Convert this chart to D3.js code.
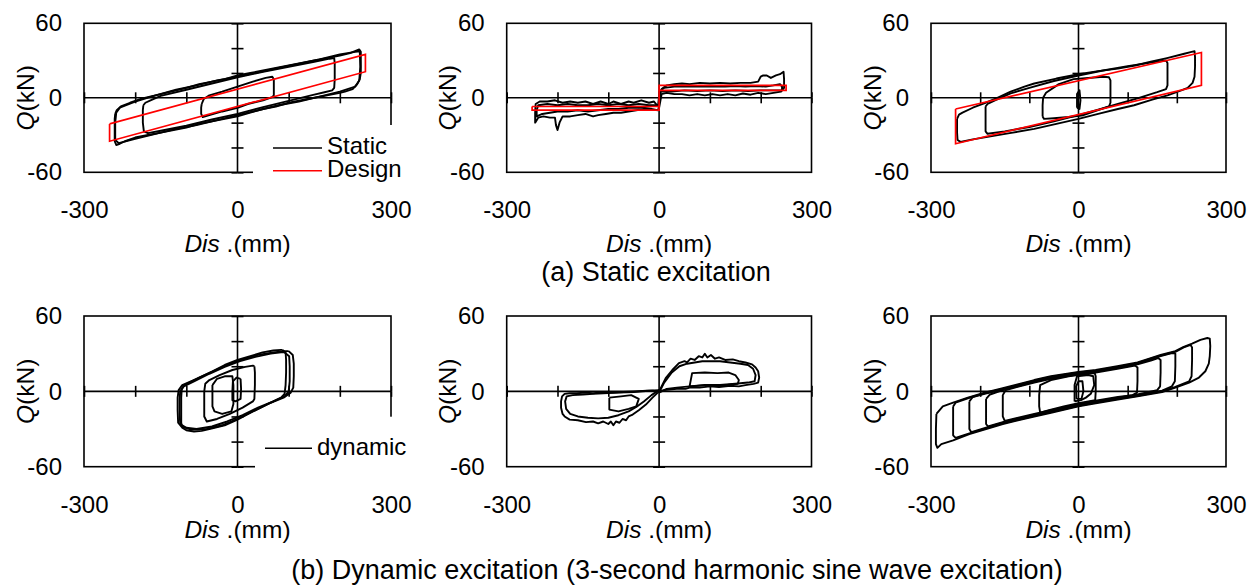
<!DOCTYPE html>
<html>
<head>
<meta charset="utf-8">
<script src="https://cdn.jsdelivr.net/npm/d3@7"></script>
<style>
  body { margin: 0; background: #fff; }
  text { font-family: "Liberation Sans", Arial, Helvetica, sans-serif; fill: #000; }
</style>
</head>
<body>
<svg id="chart" width="1255" height="586"></svg>
<script>
// ---- data: [displacement (mm), shear force (kN)] ----
const xTicks = [-300, -200, -100, 100, 200, 300];
const yTicks = [-60, -40, -20, 20, 40, 60];
const xTickLabels = [-300, 0, 300];
const yTickLabels = [-60, 0, 60];

// (a) static, left
const sA_outer = [[-239,-13],[-236,-10],[-228,-7],[-210,-4],[-190,-1],[-171,1],[-150,3],[-120,6],[-100,8],[-75,11],[-50,13],[-25,15],[0,18],[25,20],[50,22],[75,24],[100,26],[125,28],[150,30],[175,32],[200,34],[220,36],[232,38],[238,39],[241,37],[241,30],[241,20],[239,15],[234,11],[225,7],[210,5],[200,4],[175,2],[150,0],[125,-2],[100,-4],[75,-7],[50,-9],[25,-12],[0,-15],[-25,-17],[-50,-19],[-75,-21],[-100,-24],[-125,-26],[-150,-28],[-175,-30],[-200,-32],[-220,-35],[-230,-37],[-237,-38],[-240,-35],[-240,-25],[-240,-17],[-239,-13]];
const sA_outer2 = [[-237,-12],[-230,-8],[-200,-3],[-160,2],[-120,6.5],[-80,10],[-40,14],[0,17],[40,20.5],[80,24],[120,27.5],[160,31],[200,35],[230,37],[239,37.5],[240,25],[238,14],[230,9],[200,5],[160,1],[120,-3],[80,-6],[40,-10],[0,-14],[-40,-18],[-80,-22],[-120,-25],[-160,-29],[-200,-33],[-232,-36.5],[-239,-34],[-239,-20],[-237,-12]];
const sA_middle = [[-184,-6],[-180,-4],[-170,-2],[-150,1.5],[-100,6.5],[-50,11.5],[0,16.5],[50,21],[100,25],[150,29],[180,31.5],[189,32],[190,28],[190,15],[189,8],[185,6],[170,4.5],[150,2.5],[100,-2.5],[50,-7.5],[0,-13],[-50,-17.5],[-100,-22.5],[-150,-26.5],[-175,-28.5],[-183,-27],[-185,-20],[-185,-10],[-184,-6]];
const sA_inner = [[-70,-5],[-66,-1],[-55,2],[-30,5],[0,9],[30,13],[55,16],[68,17],[71,15],[71,8],[71,2],[68,0.5],[50,-2],[20,-5],[0,-8],[-30,-11],[-55,-14],[-68,-15.5],[-71,-13],[-71,-8],[-70,-5]];
const sA_design = [[-250,-21],[250,35],[250,21],[-250,-35],[-250,-21]];

// (a) static, middle
const sB_loop1 = [[0,-8],[-10,-3],[-20,-4],[-35,-2],[-50,-4],[-60,-3],[-75,-5],[-90,-3],[-100,-5],[-115,-3],[-130,-5],[-145,-3],[-160,-4],[-175,-3],[-190,-4],[-205,-2],[-220,-3],[-235,-3],[-243,-5],[-244,-12],[-244,-20],[-238,-16],[-228,-15],[-215,-16],[-205,-16],[-203,-22],[-200,-26],[-196,-20],[-190,-15],[-175,-15],[-160,-14],[-145,-13],[-130,-15],[-120,-14],[-105,-13],[-90,-12],[-75,-12],[-60,-11],[-45,-10],[-30,-9],[-15,-9],[-3,-10],[0,-8],[2,3],[5,7],[15,10],[30,11],[45,11.5],[60,11],[80,12],[100,11.5],[120,12],[140,11.5],[160,12],[180,12],[195,13],[200,17],[205,18],[212,18],[220,16],[230,18],[238,19],[245,21],[246,15],[246,8],[240,5],[225,4],[210,3],[195,4],[180,2.5],[165,3.5],[150,2],[135,3],[120,2],[105,3],[90,2],[75,3],[60,2],[45,3],[30,3],[15,4],[5,3],[0,-8]];
const sB_loop2 = [[-2,-6],[-20,-6],[-40,-5],[-60,-6],[-80,-5],[-100,-6],[-120,-5],[-140,-6],[-160,-6],[-180,-5],[-200,-6],[-220,-5],[-238,-6],[-241,-10],[-241,-15],[-230,-13],[-215,-12],[-200,-11],[-180,-11],[-160,-10],[-140,-11],[-120,-10],[-100,-9],[-80,-9],[-60,-8],[-40,-8],[-20,-7],[-2,-6],[1,5],[10,8],[30,9],[50,9],[70,9],[90,9],[110,9],[130,9],[150,9.5],[170,9],[190,9.5],[210,9],[225,10],[238,11],[242,9],[242,6],[225,6],[200,6],[175,5.5],[150,6],[125,5.5],[100,6],[75,5.5],[50,6],[25,5],[1,5]];
const sB_design = [[-250,-7],[-250,-10],[0,-10],[0,10],[250,10],[250,6],[0,6],[0,-7],[-250,-7]];

// (a) static, right
const sC_outer = [[-247,-17],[-243,-13.5],[-236,-12],[-215,-8],[-192,-4.5],[-165,0],[-138,5],[-110,9],[-90,11.5],[-45,15.5],[0,19],[40,21.5],[80,23.5],[115,26],[147,29],[180,32],[215,35.5],[230,37],[236,37.5],[237,33],[237,25],[236,17],[232,12],[222,8],[209,6],[181,2],[150,-1.5],[113,-6],[80,-9],[40,-13],[0,-17],[-45,-21],[-90,-25],[-140,-28.5],[-185,-31.5],[-215,-33.5],[-240,-35.5],[-246,-34],[-247,-28],[-247,-22],[-247,-17]];
const sC_middle = [[-189,-7],[-185,-5],[-170,-2],[-138,3.5],[-100,8],[-50,13.5],[0,18],[50,22],[100,25.5],[150,28.5],[178,30],[181,28],[181,18],[181,10],[178,7],[160,4.5],[120,-0.5],[80,-5],[40,-9.5],[0,-14],[-50,-19],[-100,-23.5],[-150,-27],[-185,-29],[-189,-27],[-189,-17],[-189,-7]];
const sC_inner = [[-73,-15],[-73,-6],[-72,0],[-66,4],[-40,11],[-10,15],[20,16],[50,17],[62,16.5],[65,14],[65,5],[65,-4],[62,-7],[40,-10],[10,-14],[-20,-15.5],[-50,-16.5],[-70,-17],[-73,-15]];
const sC_small = [[-3,-8],[-3,3],[2,6],[4,-2],[2,-9],[-3,-8]];
const sC_design = [[-250,-9],[250,36.5],[250,10],[-250,-37],[-250,-9]];

// (b) dynamic, left
const dA_outer1 = [[88,33],[94,31],[95,25],[95,15],[94,5],[92,-2],[85,-5],[70,-8],[55,-11],[30,-16],[0,-22.5],[-25,-27],[-49,-29.5],[-70,-31.5],[-85,-32],[-100,-31],[-108,-29],[-110,-25],[-110,-15],[-110,-5],[-109,2],[-104,5],[-94,7],[-75,11],[-49,16],[-25,21],[0,25],[25,28],[49,31],[70,32.5],[85,33],[88,33]];
const dA_outer2 = [[100,32],[108,29],[110,22],[110,12],[109,3],[104,-1],[90,-5],[60,-10],[30,-16],[0,-22],[-30,-27],[-60,-30],[-90,-30.5],[-110,-28],[-116,-25],[-117,-15],[-117,-5],[-115,1],[-108,5],[-80,10],[-50,15.5],[-20,21],[10,25.5],[40,29],[70,31],[90,32],[100,32]];
const dA_outer3 = [[92,31],[101,28],[102,20],[102,8],[100,0],[92,-4],[70,-8],[40,-13],[10,-19],[-20,-24],[-50,-28],[-80,-30],[-100,-29],[-112,-26],[-113,-18],[-113,-6],[-112,0],[-105,4],[-85,8],[-55,14],[-25,19.5],[5,24],[35,27.5],[65,30],[85,31],[92,31]];
const dA_middle = [[33,20],[34,15],[34,5],[33,-6],[30,-8],[10,-13],[-15,-18],[-40,-22],[-60,-24],[-65,-20],[-65,-10],[-65,0],[-63,6],[-55,9],[-35,13],[-10,17],[15,19.5],[30,20.5],[33,20]];
const dA_small = [[-49,5],[-49,-12],[-45,-16],[-30,-18],[-12,-16],[-8,-10],[-8,5],[-10,12],[-25,12],[-40,10],[-49,5]];
const dA_tiny = [[6,10],[7,2],[6,-6],[-4,-8],[-10,-7],[-10,0],[-9,8],[-2,11],[6,10]];

// (b) dynamic, middle
const dB_right1 = [[0,0],[13,10.5],[26,17],[39,22.5],[50,24],[55,23],[62,26],[70,25],[78,28],[85,27],[90,30],[95,27],[102,29],[110,26],[118,27],[130,25],[145,25.5],[157,24],[170,23],[183,21.5],[190,19],[195,16],[197,11],[195,7],[186,6],[170,5],[157,4],[140,4.5],[118,3.5],[100,4],[80,3],[60,3],[52,2],[35,2],[20,1.5],[10,1],[0,0]];
const dB_right2 = [[0,-1],[10,7],[25,15],[40,20],[55,22],[70,23],[85,24],[100,24],[120,24],[140,23],[160,22],[175,21],[185,18],[190,13],[188,8],[175,7],[150,6],[120,5],[90,5],[60,4],[35,3],[15,2],[0,-1]];
const dB_rightIn = [[60,4],[65,14.5],[90,15],[115,14.5],[137,15],[150,13],[157,9],[155,6],[130,5],[100,5],[60,4]];
const dB_left1 = [[0,0],[-13,-5],[-26,-10.5],[-40,-15],[-52,-18.5],[-60,-20],[-65,-23],[-72,-22],[-78,-25],[-85,-24],[-90,-27],[-95,-24],[-100,-26],[-110,-24],[-120,-25.5],[-130,-24],[-144,-24.5],[-160,-23],[-176,-22.5],[-186,-20],[-190,-18],[-193,-13],[-193,-8],[-191,-4],[-186,-2],[-176,-1.5],[-163,-1.5],[-145,-1],[-130,-1.5],[-111,-0.8],[-90,-1],[-70,-0.5],[-46,0],[-25,0.5],[-13,0.5],[0,0]];
const dB_left2 = [[0,1],[-15,-3],[-30,-8],[-45,-12.5],[-60,-16],[-80,-19],[-100,-21],[-120,-21.5],[-140,-21],[-160,-20],[-175,-18],[-183,-14],[-185,-8],[-182,-4],[-170,-3],[-150,-2.5],[-130,-2],[-110,-1.5],[-80,-1],[-50,-0.5],[-20,0.5],[0,1]];
const dB_leftIn = [[-98,-5],[-98,-14.5],[-80,-16],[-60,-14],[-45,-12],[-40,-6],[-55,-3],[-75,-4],[-98,-5]];

// (b) dynamic, right
const dC_loopA = [[-289,-18],[-276,-12],[-255,-9],[-225,-5],[-191,-1],[-154,2.5],[-124,5.5],[-90,9],[-56,12],[0,15.5],[35,17],[79,20],[120,23],[147,26.5],[167,29],[197,32],[214,35.5],[231,38],[248,41],[262,42.5],[267,42],[268,36],[267,28],[265,22],[258,16],[245,11],[225,7],[197,3],[170,-0.5],[120,-4],[80,-6.5],[35,-9.5],[0,-12],[-56,-17],[-90,-20],[-154,-26],[-188,-30],[-222,-34],[-255,-39],[-279,-42],[-287,-45],[-290,-42],[-290,-30],[-289,-18]];
const dC_loopB = [[-255,-12],[-250,-9],[-225,-5.5],[-191,-1.5],[-154,2],[-124,5],[-90,8.5],[-56,11.5],[0,15],[35,16.5],[79,19.5],[120,22.5],[147,26],[167,28.5],[197,31.5],[214,35],[228,37],[231,35],[231,25],[230,12],[225,8],[197,3.5],[170,0],[120,-3.5],[80,-6],[35,-9],[0,-11.5],[-56,-16.5],[-90,-19.5],[-154,-25.5],[-188,-29.5],[-222,-33.5],[-250,-37],[-255,-35],[-255,-25],[-255,-12]];
const dC_loopC = [[-222,-8],[-215,-4.5],[-191,-2],[-154,1.5],[-124,4.5],[-90,8],[-56,11],[0,14.5],[35,16],[79,19],[120,22],[147,25.5],[167,28],[190,30.5],[197,30],[197,20],[196,8],[190,4],[170,0.5],[120,-3],[80,-5.5],[35,-8.5],[0,-11],[-56,-16],[-90,-19],[-154,-25],[-188,-29],[-218,-32.5],[-222,-30],[-222,-20],[-222,-8]];
const dC_loopD = [[-188,-6],[-180,-2.5],[-154,1],[-124,4],[-90,7.5],[-56,10.5],[0,14],[35,15.5],[79,18.5],[120,21.5],[147,24.5],[162,26.5],[167,25],[167,15],[166,4],[160,1],[120,-2.5],[80,-5],[35,-8],[0,-10.5],[-56,-15.5],[-90,-18.5],[-154,-24.5],[-184,-28],[-188,-26],[-188,-15],[-188,-6]];
const dC_loopE = [[-154,-3],[-148,1],[-124,3.5],[-90,7],[-56,10],[0,13.5],[35,15],[79,18],[115,20.5],[120,19],[120,8],[119,-1],[110,-3],[80,-4.5],[35,-7.5],[0,-10],[-56,-15],[-90,-18],[-150,-23.5],[-154,-20],[-154,-10],[-154,-3]];
const dC_loopF = [[-80,-3],[-78,5],[-56,9],[-20,12],[10,13.5],[33,14.5],[35,12],[35,0],[34,-7],[20,-8],[0,-9.5],[-30,-12],[-60,-15],[-78,-17],[-80,-12],[-80,-3]];
const dC_loopG = [[-8,-8],[-8,5],[-3,12],[20,13],[30,12],[32,5],[25,-2],[15,-5],[5,-7],[-8,-8]];
const dC_loopH = [[-4,-6],[-5,4],[0,8],[8,8],[10,0],[6,-6],[-4,-6]];

// ---- layout ----
const rows = [{ top: 23.3, bottom: 172.3, labelY: 252 }, { top: 316, bottom: 466.7, labelY: 538 }];
const cols = [{ left: 84, right: 391 }, { left: 506.7, right: 811.5 }, { left: 931, right: 1226 }];

const panels = [
  { r: 0, c: 0, black: [sA_outer, sA_outer2, sA_middle, sA_inner], red: [sA_design] },
  { r: 0, c: 1, black: [sB_loop1, sB_loop2], red: [sB_design] },
  { r: 0, c: 2, black: [sC_outer, sC_middle, sC_inner, sC_small], red: [sC_design] },
  { r: 1, c: 0, black: [dA_outer1, dA_outer2, dA_outer3, dA_middle, dA_small, dA_tiny], red: [] },
  { r: 1, c: 1, black: [dB_right1, dB_right2, dB_rightIn, dB_left1, dB_left2, dB_leftIn], red: [] },
  { r: 1, c: 2, black: [dC_loopA, dC_loopB, dC_loopC, dC_loopD, dC_loopE, dC_loopF, dC_loopG, dC_loopH], red: [] }
];

const plainNum = function(d) { return String(d); }; // keep ASCII hyphen

const svg = d3.select("#chart");
svg.append("rect").attr("width", 1255).attr("height", 586).attr("fill", "#fff");

panels.forEach(drawPanel);

function drawPanel(p) {
  const left = cols[p.c].left, right = cols[p.c].right;
  const top = rows[p.r].top, bottom = rows[p.r].bottom;

  const x = d3.scaleLinear().domain([-300, 300]).range([left, right]);
  const y = d3.scaleLinear().domain([-60, 60]).range([bottom, top]);

  const g = svg.append("g");

  // frame
  g.append("rect")
    .attr("x", left).attr("y", top)
    .attr("width", right - left).attr("height", bottom - top)
    .attr("fill", "none").attr("stroke", "#000").attr("stroke-width", 1.6);

  // zero axes
  g.append("line")
    .attr("x1", left).attr("x2", right).attr("y1", y(0)).attr("y2", y(0))
    .attr("stroke", "#000").attr("stroke-width", 1.6);
  g.append("line")
    .attr("x1", x(0)).attr("x2", x(0)).attr("y1", top).attr("y2", bottom)
    .attr("stroke", "#000").attr("stroke-width", 1.6);

  // cross ticks on the zero axes
  [d3.axisTop(x), d3.axisBottom(x)].forEach(function(ax) {
    g.append("g")
      .attr("transform", "translate(0," + y(0) + ")")
      .call(ax.tickValues(xTicks).tickSize(5.5).tickFormat(""))
      .call(function(s) { s.select(".domain").remove(); })
      .selectAll("line").attr("stroke-width", 1.6);
  });
  [d3.axisLeft(y), d3.axisRight(y)].forEach(function(ax) {
    g.append("g")
      .attr("transform", "translate(" + x(0) + ",0)")
      .call(ax.tickValues(yTicks).tickSize(6).tickFormat(""))
      .call(function(s) { s.select(".domain").remove(); })
      .selectAll("line").attr("stroke-width", 1.6);
  });

  // tick labels
  g.append("g")
    .attr("transform", "translate(0," + bottom + ")")
    .call(d3.axisBottom(x).tickValues(xTickLabels).tickSize(0).tickPadding(29).tickFormat(plainNum))
    .call(function(s) {
      s.select(".domain").remove();
      s.selectAll("text").attr("font-size", 24).attr("font-family", null).attr("fill", "#000");
    });
  g.append("g")
    .attr("transform", "translate(" + left + ",0)")
    .call(d3.axisLeft(y).tickValues(yTickLabels).tickSize(0).tickPadding(22).tickFormat(plainNum))
    .call(function(s) {
      s.select(".domain").remove();
      s.selectAll("text").attr("font-size", 24).attr("font-family", null).attr("fill", "#000");
    });

  // axis titles
  const xt = g.append("text")
    .attr("x", x(0)).attr("y", rows[p.r].labelY)
    .attr("text-anchor", "middle").attr("font-size", 24.5);
  xt.append("tspan").attr("font-style", "italic").text("Dis");
  xt.append("tspan").text(" .(mm)");

  const yt = g.append("text")
    .attr("transform", "translate(" + (left - 59) + "," + ((top + bottom) / 2) + ") rotate(-90)")
    .attr("text-anchor", "middle").attr("dy", "0.35em").attr("font-size", 24.5);
  yt.append("tspan").attr("font-style", "italic").text("Q");
  yt.append("tspan").text("(kN)");

  // curves
  const line = d3.line().x(function(d) { return x(d[0]); }).y(function(d) { return y(d[1]); });

  g.selectAll(".loop")
    .data(p.black)
    .enter()
    .append("path")
    .attr("class", "loop")
    .attr("d", line)
    .attr("fill", "none")
    .attr("stroke", "#000")
    .attr("stroke-width", 1.9)
    .attr("stroke-linejoin", "round");

  g.selectAll(".design")
    .data(p.red)
    .enter()
    .append("path")
    .attr("class", "design")
    .attr("d", line)
    .attr("fill", "none")
    .attr("stroke", "#ff0000")
    .attr("stroke-width", 1.7);
}

// legends (white boxes sit over the frame corner)
function legend(x0, y0, w, h, items) {
  svg.append("rect").attr("x", x0).attr("y", y0).attr("width", w).attr("height", h).attr("fill", "#fff");
  items.forEach(function(it) {
    svg.append("line")
      .attr("x1", it.lx1).attr("x2", it.lx2).attr("y1", it.ly).attr("y2", it.ly)
      .attr("stroke", it.color).attr("stroke-width", 1.6);
    svg.append("text")
      .attr("x", it.tx).attr("y", it.ty)
      .attr("font-size", 24)
      .text(it.label);
  });
}

legend(253, 125, 170, 65, [
  { label: "Static", color: "#000", lx1: 273, lx2: 322, ly: 148, tx: 327, ty: 154 },
  { label: "Design", color: "#ff0000", lx1: 273, lx2: 322, ly: 170.7, tx: 327, ty: 177 }
]);
legend(255, 416.7, 168, 60, [
  { label: "dynamic", color: "#000", lx1: 265, lx2: 312, ly: 448.3, tx: 317, ty: 455 }
]);

// captions
svg.append("text")
  .attr("x", 656).attr("y", 281)
  .attr("text-anchor", "middle").attr("font-size", 27)
  .text("(a) Static excitation");
svg.append("text")
  .attr("x", 677).attr("y", 579)
  .attr("text-anchor", "middle").attr("font-size", 27)
  .text("(b) Dynamic excitation (3-second harmonic sine wave excitation)");
</script>
</body>
</html>
